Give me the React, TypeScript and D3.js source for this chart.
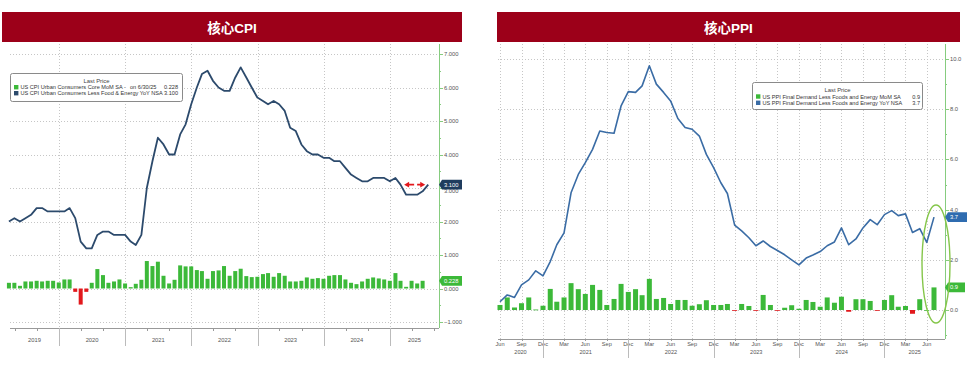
import { useEffect, useRef } from 'react';
import * as d3 from 'd3';

// 核心CPI — monthly, month-end dates from Mar 2019
const cpiStartYear = 2019;
const cpiStartMonth = 2; // March
const cpiYoY = [
  2.0, 2.1, 2.0, 2.1, 2.2, 2.4, 2.4, 2.3, 2.3, 2.3,
  2.3, 2.4, 2.1, 1.4, 1.2, 1.2, 1.6, 1.7, 1.7, 1.6, 1.6, 1.6,
  1.4, 1.3, 1.6, 3.0, 3.8, 4.5, 4.3, 4.0, 4.0, 4.6, 4.9, 5.5,
  6.0, 6.4, 6.5, 6.2, 6.0, 5.9, 5.9, 6.3, 6.6, 6.3, 6.0, 5.7,
  5.6, 5.5, 5.6, 5.5, 5.3, 4.8, 4.7, 4.3, 4.1, 4.0, 4.0, 3.9,
  3.9, 3.8, 3.8, 3.6, 3.4, 3.3, 3.2, 3.2, 3.3, 3.3, 3.3, 3.2,
  3.3, 3.1, 2.8, 2.8, 2.8, 2.9, 3.1,
];
const cpiMoM = [
  0.17, 0.17, 0.08, 0.21, 0.21, 0.23, 0.21, 0.23, 0.23, 0.18,
  0.27, 0.27, -0.1, -0.48, -0.1, 0.17, 0.58, 0.4, 0.17, 0.21, 0.27, 0.15,
  0.04, 0.14, 0.26, 0.82, 0.67, 0.8, 0.38, 0.15, 0.26, 0.69, 0.66, 0.66,
  0.55, 0.52, 0.29, 0.52, 0.54, 0.67, 0.38, 0.52, 0.59, 0.37, 0.34, 0.35,
  0.43, 0.46, 0.35, 0.46, 0.38, 0.21, 0.21, 0.23, 0.33, 0.29, 0.31, 0.29,
  0.38, 0.4, 0.4, 0.27, 0.17, 0.13, 0.21, 0.29, 0.33, 0.3, 0.27, 0.23,
  0.46, 0.23, 0.05, 0.23, 0.15, 0.23,
];
const cpiYears = [2019, 2020, 2021, 2022, 2023, 2024, 2025];
const cpiTicks = [-1, 0, 1, 2, 3, 4, 5, 6, 7];
const cpiLegend = [
  { name: 'US CPI Urban Consumers Core MoM SA -', date: 'on 6/30/25', value: '0.228' },
  { name: 'US CPI Urban Consumers Less Food & Energy YoY NSA', date: '', value: '3.100' },
];

// 核心PPI — monthly, month-end dates from Jun 2020
const ppiStartYear = 2020;
const ppiStartMonth = 5; // June
const ppiYoY = [
  0.33, 0.6, 0.5, 1.0, 1.2, 1.56, 1.36,
  1.93, 2.6, 3.07, 4.67, 5.4, 5.87, 6.4, 7.13, 7.07, 7.04, 8.13, 8.7,
  8.67, 8.93, 9.73, 9.0, 8.67, 8.33, 7.63, 7.27, 7.2, 6.93, 6.2, 5.67,
  5.07, 4.64, 3.38, 3.15, 2.88, 2.56, 2.75, 2.53, 2.37, 2.2, 2.0, 1.8,
  2.07, 2.19, 2.33, 2.56, 2.71, 3.27, 2.6, 2.83, 3.27, 3.6, 3.4, 3.8,
  3.96, 3.76, 3.83, 3.09, 3.24, 2.69, 3.7,
];
const ppiMoM = [
  0.2, 0.5, 0.1, 0.27, 0.5, 0.02, 0.17,
  0.84, 0.33, 0.5, 1.07, 0.83, 0.64, 1.0, 0.8, 0.2, 0.44, 1.04, 0.72,
  0.83, 0.59, 1.24, 0.44, 0.48, 0.24, 0.4, 0.4, 0.17, 0.23, 0.39, 0.2,
  0.2, 0.24, -0.03, 0.24, 0.16, -0.03, 0.6, 0.2, -0.02, 0.09, 0.19, 0.05,
  0.4, 0.32, 0.13, 0.5, 0.29, 0.53, -0.07, 0.43, 0.43, 0.36, -0.03, 0.4,
  0.59, 0.13, 0.16, -0.15, 0.43, 0.0, 0.9,
];
const ppiYears = [2020, 2021, 2022, 2023, 2024, 2025];
const ppiTicks = [0, 2, 4, 6, 8, 10];
const ppiLegend = [
  { name: 'US PPI Final Demand Less Foods and Energy MoM SA', value: '0.9' },
  { name: 'US PPI Final Demand Less Foods and Energy YoY NSA', value: '3.7' },
];

const W = 971;
const H = 367;
const FONT = '"Liberation Sans", Arial, sans-serif';
const GRID = '#c6c6c6';
const GREEN = '#3cb939';
const RED = '#e2181c';
const HEADER = '#9c0019';
const AXIS_GREEN = '#86cc7f';
const TXT = '#555';
const LEG_FS = 5.6;

const monthEnds = (y: number, m: number, n: number) => d3.range(n).map((i) => new Date(y, m + i + 1, 0));
const px = (v: number) => Math.round(v) + 0.5;

export default function App() {
  const ref = useRef<SVGSVGElement>(null);

  useEffect(() => {
    if (!ref.current) return;
    const svg = d3.select(ref.current);
    svg.selectAll('*').remove();
    svg.append('rect').attr('width', W).attr('height', H).attr('fill', '#fff');

    const header = (x: number, w: number, title: string) => {
      svg.append('rect').attr('x', x).attr('y', 12).attr('width', w).attr('height', 30).attr('fill', HEADER);
      svg
        .append('text')
        .attr('x', x + w / 2)
        .attr('y', 28)
        .attr('text-anchor', 'middle')
        .attr('dominant-baseline', 'central')
        .attr('font-family', '"Liberation Sans", "Noto Sans CJK SC", sans-serif')
        .attr('font-weight', 700)
        .attr('font-size', 13.5)
        .attr('fill', '#fff')
        .text(title);
    };

    const tag = (g: any, x: number, y: number, w: number, color: string, label: string) => {
      g.append('path')
        .attr('d', `M${x - 2},${y} L${x + 1},${y - 4.8} L${x + w},${y - 4.8} L${x + w},${y + 4.8} L${x + 1},${y + 4.8} Z`)
        .attr('fill', color);
      g.append('text')
        .attr('x', x + 3)
        .attr('y', y)
        .attr('dominant-baseline', 'central')
        .attr('font-family', FONT)
        .attr('font-size', 5.8)
        .attr('fill', '#fff')
        .text(label);
    };

    // ---------------- 核心CPI ----------------
    header(2, 460, '核心CPI');
    const L = { left: 10, right: 439, top: 44, bottom: 328 };
    const lx = d3.scaleTime().domain([new Date(2019, 0, 1), new Date(2025, 0, 1)]).range([-7.2, 390]);
    const ly = d3.scaleLinear().domain([-1, 7]).range([322, 54]);
    const cpiLineDates = monthEnds(cpiStartYear, cpiStartMonth, cpiYoY.length);
    const cpiBarDates = monthEnds(cpiStartYear, cpiStartMonth, cpiMoM.length);
    const lg = svg.append('g');

    lg.selectAll('line.hg')
      .data(cpiTicks)
      .join('line')
      .attr('x1', L.left)
      .attr('x2', L.right - 2)
      .attr('y1', (d) => px(ly(d)))
      .attr('y2', (d) => px(ly(d)))
      .attr('stroke', GRID)
      .attr('stroke-dasharray', '1,2');

    const cpiYearStarts = cpiYears.slice(1).map((y) => new Date(y, 0, 1));
    lg.selectAll('line.vg')
      .data(cpiYearStarts)
      .join('line')
      .attr('x1', (d) => px(lx(d)))
      .attr('x2', (d) => px(lx(d)))
      .attr('y1', L.top)
      .attr('y2', L.bottom)
      .attr('stroke', GRID)
      .attr('stroke-dasharray', '1,2');

    // bars
    lg.selectAll('rect.bar')
      .data(cpiMoM)
      .join('rect')
      .attr('x', (d, i) => lx(cpiBarDates[i]) - 2)
      .attr('width', 4)
      .attr('y', (d) => ly(Math.max(d, 0)))
      .attr('height', (d) => Math.max(0.8, Math.abs(ly(d) - ly(0))))
      .attr('fill', (d) => (d >= 0 ? GREEN : RED));

    // line
    const lline = d3
      .line<number>()
      .x((d, i) => lx(cpiLineDates[i]))
      .y((d) => ly(d));
    lg.append('path')
      .attr('d', lline(cpiYoY))
      .attr('fill', 'none')
      .attr('stroke', '#2c4a6c')
      .attr('stroke-width', 1.8)
      .attr('stroke-linejoin', 'round');

    // red arrows annotation
    const ay = ly(3.1);
    const ax1 = lx(new Date(2025, 2, 31)) - 2;
    const ax2 = lx(new Date(2025, 6, 31)) - 3;
    lg.append('line')
      .attr('x1', ax1 + 4)
      .attr('x2', ax2 - 4)
      .attr('y1', ay)
      .attr('y2', ay)
      .attr('stroke', RED)
      .attr('stroke-width', 1.6)
      .attr('stroke-dasharray', '6,3');
    lg.append('path').attr('d', `M${ax1},${ay} L${ax1 + 5},${ay - 2.8} L${ax1 + 5},${ay + 2.8} Z`).attr('fill', RED);
    lg.append('path').attr('d', `M${ax2},${ay} L${ax2 - 5},${ay - 2.8} L${ax2 - 5},${ay + 2.8} Z`).attr('fill', RED);

    // right axis
    lg.append('line').attr('x1', px(L.right)).attr('x2', px(L.right)).attr('y1', L.top).attr('y2', L.bottom).attr('stroke', AXIS_GREEN);
    lg.selectAll('line.minor')
      .data(d3.range(-1, 7.01, 0.5))
      .join('line')
      .attr('x1', L.right)
      .attr('x2', (d) => (Number.isInteger(d) ? L.right + 4 : L.right + 2))
      .attr('y1', (d) => px(ly(d)))
      .attr('y2', (d) => px(ly(d)))
      .attr('stroke', AXIS_GREEN);
    lg.selectAll('text.yl')
      .data(cpiTicks)
      .join('text')
      .attr('x', L.right + 5)
      .attr('y', (d) => (d === 3 ? ly(d) + 3 : ly(d)))
      .attr('dominant-baseline', 'central')
      .attr('font-family', FONT)
      .attr('font-size', 5.8)
      .attr('fill', TXT)
      .text((d) => d3.format('.3f')(d));

    // bottom axis
    lg.append('line').attr('x1', L.left).attr('x2', L.right).attr('y1', px(L.bottom)).attr('y2', px(L.bottom)).attr('stroke', '#999');
    const lMinor = d3.timeMonth.every(4)!.range(lx.invert(L.left), lx.invert(L.right));
    lg.selectAll('line.xt')
      .data(lMinor)
      .join('line')
      .attr('x1', (d) => px(lx(d)))
      .attr('x2', (d) => px(lx(d)))
      .attr('y1', L.bottom)
      .attr('y2', L.bottom + 3)
      .attr('stroke', '#999');
    lg.selectAll('line.sep')
      .data(cpiYearStarts)
      .join('line')
      .attr('x1', (d) => px(lx(d)))
      .attr('x2', (d) => px(lx(d)))
      .attr('y1', L.bottom)
      .attr('y2', L.bottom + 18)
      .attr('stroke', '#bbb');
    lg.selectAll('text.year')
      .data(cpiYears)
      .join('text')
      .attr('x', (y) => {
        const a = Math.max(lx(new Date(y, 0, 1)), L.left);
        const b = Math.min(lx(new Date(y + 1, 0, 1)), L.right);
        return (a + b) / 2;
      })
      .attr('y', 340)
      .attr('text-anchor', 'middle')
      .attr('dominant-baseline', 'central')
      .attr('font-family', FONT)
      .attr('font-size', 5.8)
      .attr('fill', TXT)
      .text((d) => String(d));

    tag(lg, L.right + 2, ly(cpiYoY[cpiYoY.length - 1]), 21, '#1f3c5e', d3.format('.3f')(cpiYoY[cpiYoY.length - 1]));
    tag(lg, L.right + 2, ly(0.228), 21, GREEN, '0.228');

    // legend
    const lgd = lg.append('g');
    lgd.append('rect').attr('x', 10.5).attr('y', 73.5).attr('width', 172).attr('height', 28).attr('rx', 2).attr('fill', '#fff').attr('stroke', '#8a8a8a');
    lgd.append('text').attr('x', 96.5).attr('y', 80.8).attr('text-anchor', 'middle').attr('dominant-baseline', 'central').attr('font-family', FONT).attr('font-size', 5.9).attr('fill', '#444').text('Last Price');
    cpiLegend.forEach((item, i) => {
      const y = 87.2 + i * 6;
      lgd.append('rect').attr('x', 14).attr('y', y - 2.2).attr('width', 4.4).attr('height', 4.4).attr('fill', i === 0 ? GREEN : '#2c4a6c');
      lgd.append('text').attr('x', 20.5).attr('y', y).attr('dominant-baseline', 'central').attr('font-family', FONT).attr('font-size', LEG_FS).attr('fill', '#333').text(item.name);
      if (item.date) lgd.append('text').attr('x', 130).attr('y', y).attr('dominant-baseline', 'central').attr('font-family', FONT).attr('font-size', LEG_FS).attr('fill', '#333').text(item.date);
      lgd.append('text').attr('x', 178).attr('y', y).attr('text-anchor', 'end').attr('dominant-baseline', 'central').attr('font-family', FONT).attr('font-size', LEG_FS).attr('fill', '#333').text(item.value);
    });

    // ---------------- 核心PPI ----------------
    header(497, 463, '核心PPI');
    const R = { left: 498, right: 945, top: 44, bottom: 339 };
    const rx = d3.scaleTime().domain([new Date(2020, 5, 30), new Date(2025, 6, 31)]).range([500, 934]);
    const ry = d3.scaleLinear().domain([0, 10]).range([310, 59]);
    const ppiDates = monthEnds(ppiStartYear, ppiStartMonth, ppiYoY.length);
    const quarterEnds = d3.range(21).map((k) => new Date(2020, 5 + 3 * k + 1, 0));
    const rg = svg.append('g');

    rg.selectAll('line.hg')
      .data(ppiTicks)
      .join('line')
      .attr('x1', R.left)
      .attr('x2', R.right - 2)
      .attr('y1', (d) => px(ry(d)))
      .attr('y2', (d) => px(ry(d)))
      .attr('stroke', GRID)
      .attr('stroke-dasharray', '1,2');
    rg.selectAll('line.vg')
      .data(quarterEnds)
      .join('line')
      .attr('x1', (d) => px(rx(d)))
      .attr('x2', (d) => px(rx(d)))
      .attr('y1', R.top)
      .attr('y2', R.bottom)
      .attr('stroke', GRID)
      .attr('stroke-dasharray', '1,2');

    rg.selectAll('rect.bar')
      .data(ppiMoM)
      .join('rect')
      .attr('x', (d, i) => rx(ppiDates[i]) - 2.5)
      .attr('width', 5)
      .attr('y', (d) => ry(Math.max(d, 0)))
      .attr('height', (d) => Math.max(0.8, Math.abs(ry(d) - ry(0))))
      .attr('fill', (d) => (d >= 0 ? GREEN : RED));

    const rline = d3
      .line<number>()
      .x((d, i) => rx(ppiDates[i]))
      .y((d) => ry(d));
    rg.append('path')
      .attr('d', rline(ppiYoY))
      .attr('fill', 'none')
      .attr('stroke', '#3a6ca5')
      .attr('stroke-width', 1.6)
      .attr('stroke-linejoin', 'round');

    rg.append('line').attr('x1', px(R.right)).attr('x2', px(R.right)).attr('y1', R.top).attr('y2', R.bottom).attr('stroke', AXIS_GREEN);
    rg.selectAll('line.minor')
      .data(d3.range(-1, 10.01, 1))
      .join('line')
      .attr('x1', R.right)
      .attr('x2', (d) => (d % 2 === 0 ? R.right + 4 : R.right + 2))
      .attr('y1', (d) => px(ry(d)))
      .attr('y2', (d) => px(ry(d)))
      .attr('stroke', AXIS_GREEN);
    rg.selectAll('text.yl')
      .data(ppiTicks)
      .join('text')
      .attr('x', R.right + 5)
      .attr('y', (d) => ry(d))
      .attr('dominant-baseline', 'central')
      .attr('font-family', FONT)
      .attr('font-size', 5.8)
      .attr('fill', TXT)
      .text((d) => d3.format('.1f')(d));

    rg.append('line').attr('x1', R.left).attr('x2', R.right).attr('y1', px(R.bottom)).attr('y2', px(R.bottom)).attr('stroke', '#999');
    rg.selectAll('line.xt')
      .data(quarterEnds)
      .join('line')
      .attr('x1', (d) => px(rx(d)))
      .attr('x2', (d) => px(rx(d)))
      .attr('y1', R.bottom)
      .attr('y2', R.bottom + 2)
      .attr('stroke', '#999');
    rg.selectAll('text.mon')
      .data(quarterEnds)
      .join('text')
      .attr('x', (d) => rx(d))
      .attr('y', 343.5)
      .attr('text-anchor', 'middle')
      .attr('dominant-baseline', 'central')
      .attr('font-family', FONT)
      .attr('font-size', 5.6)
      .attr('fill', TXT)
      .text((d) => d3.timeFormat('%b')(d));
    const ppiYearEnds = ppiYears.slice(0, -1).map((y) => new Date(y, 11, 31));
    rg.selectAll('line.sep')
      .data(ppiYearEnds)
      .join('line')
      .attr('x1', (d) => px(rx(d)))
      .attr('x2', (d) => px(rx(d)))
      .attr('y1', R.bottom)
      .attr('y2', R.bottom + 19)
      .attr('stroke', '#bbb');
    rg.selectAll('text.year')
      .data(ppiYears)
      .join('text')
      .attr('x', (y) => {
        const a = Math.max(rx(new Date(y - 1, 11, 31)), R.left);
        const b = Math.min(rx(new Date(y, 11, 31)), R.right);
        return (a + b) / 2;
      })
      .attr('y', 351.5)
      .attr('text-anchor', 'middle')
      .attr('dominant-baseline', 'central')
      .attr('font-family', FONT)
      .attr('font-size', 5.6)
      .attr('fill', TXT)
      .text((d) => String(d));

    tag(rg, R.right + 2, ry(ppiYoY[ppiYoY.length - 1]), 20, '#2f6cb0', d3.format('.1f')(ppiYoY[ppiYoY.length - 1]));
    tag(rg, R.right + 2, ry(ppiMoM[ppiMoM.length - 1]), 18, GREEN, d3.format('.1f')(ppiMoM[ppiMoM.length - 1]));

    // highlight oval around latest readings
    rg.append('ellipse')
      .attr('cx', 936)
      .attr('cy', 264)
      .attr('rx', 14)
      .attr('ry', 59)
      .attr('fill', 'none')
      .attr('stroke', '#85c64a')
      .attr('stroke-width', 1.4);

    const rgd = rg.append('g');
    rgd.append('rect').attr('x', 752.5).attr('y', 82.5).attr('width', 170).attr('height', 27).attr('rx', 2).attr('fill', '#fff').attr('stroke', '#8a8a8a');
    rgd.append('text').attr('x', 837.5).attr('y', 89.5).attr('text-anchor', 'middle').attr('dominant-baseline', 'central').attr('font-family', FONT).attr('font-size', 5.9).attr('fill', '#444').text('Last Price');
    ppiLegend.forEach((item, i) => {
      const y = 96.5 + i * 6.3;
      rgd.append('rect').attr('x', 756).attr('y', y - 2.2).attr('width', 4.4).attr('height', 4.4).attr('fill', i === 0 ? GREEN : '#3a6ca5');
      rgd.append('text').attr('x', 762.5).attr('y', y).attr('dominant-baseline', 'central').attr('font-family', FONT).attr('font-size', LEG_FS).attr('fill', '#333').text(item.name);
      rgd.append('text').attr('x', 920).attr('y', y).attr('text-anchor', 'end').attr('dominant-baseline', 'central').attr('font-family', FONT).attr('font-size', LEG_FS).attr('fill', '#333').text(item.value);
    });
  }, []);

  return <svg ref={ref} width={W} height={H} style={{ position: 'absolute', left: 0, top: 0 }} />;
}
